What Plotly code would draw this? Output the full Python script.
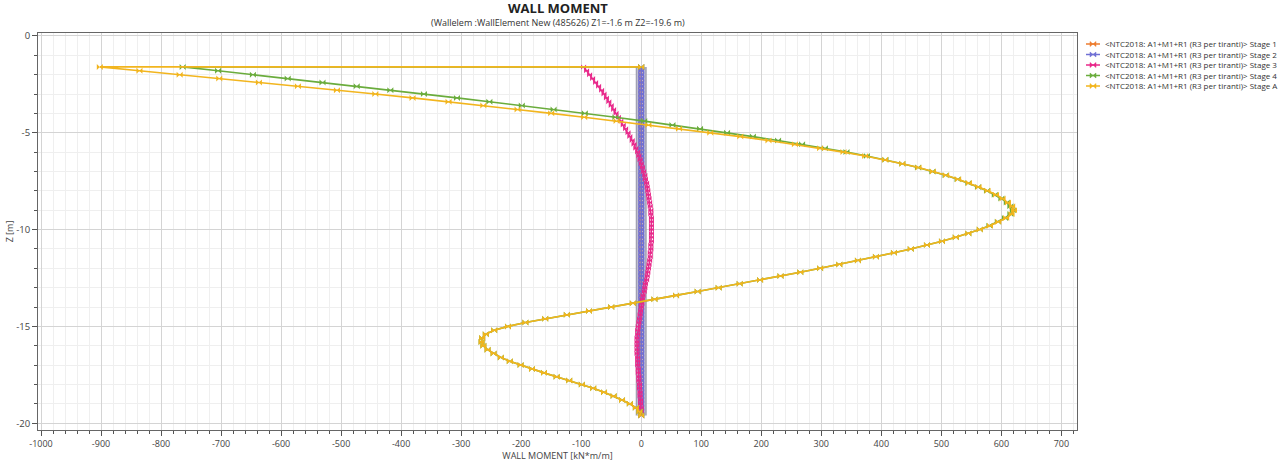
import plotly.graph_objects as go

# Depth grid (Z1=-1.6 m to Z2=-19.6 m, step 0.2 m)
z = [round(-1.6 - 0.2 * i, 1) for i in range(91)]

stage1 = [0] * 91
stage2 = [0] * 91

stage3 = [-96, -91, -86, -81, -76, -71, -66, -62, -58, -54,
          -50, -46, -42, -38, -34, -30, -26, -22, -19, -15,
          -12, -9, -6, -4, -2, 0, 2, 4, 6, 7,
          9, 10, 11, 12, 13, 14, 15, 16, 16, 17,
          17, 17, 17, 17, 17, 17, 16, 16, 15, 15,
          14, 13, 12, 11, 10, 9, 7, 6, 5, 3,
          2, 1, 0, -1, -2, -3, -4, -5, -6, -6,
          -7, -7, -7, -7, -7, -6, -6, -6, -5, -5,
          -4, -4, -3, -3, -2, -2, -1, -1, 0, 0, 0]

stage4 = [-764, -705, -647, -589, -531, -474, -418, -362, -307, -253,
          -199, -146, -94, -43, 5, 52, 98, 143, 186, 228,
          268, 306, 342, 376, 407, 435, 461, 485, 507, 527,
          545, 561, 576, 589, 600, 609, 615, 619, 615, 606,
          594, 580, 564, 545, 524, 501, 476, 449, 421, 391,
          361, 330, 298, 265, 232, 198, 164, 129, 94, 58,
          22, -14, -50, -87, -124, -160, -193, -222, -245, -259,
          -265, -266, -263, -256, -246, -234, -219, -201, -182, -162,
          -141, -120, -99, -80, -62, -46, -32, -19, -9, -3, 0]

stageA = [-902, -836, -769, -703, -637, -572, -507, -443, -381, -321,
          -263, -206, -150, -95, -41, 12, 63, 115, 165, 212,
          256, 298, 337, 373, 406, 435, 462, 486, 508, 528,
          546, 562, 577, 591, 602, 611, 618, 621, 617, 608,
          595, 581, 564, 545, 524, 501, 476, 449, 421, 391,
          361, 330, 298, 265, 232, 198, 164, 129, 94, 58,
          22, -14, -50, -87, -124, -160, -193, -222, -245, -259,
          -265, -266, -263, -256, -246, -234, -219, -201, -182, -162,
          -141, -120, -99, -80, -62, -46, -32, -19, -9, -3, 0]

# Top of wall: curves start from the wall head (0 at Z1)
head_x = 0
head_z = -1.6

x_ticks = [-1000, -900, -800, -700, -600, -500, -400, -300, -200, -100,
           0, 100, 200, 300, 400, 500, 600, 700]
y_ticks = [0, -5, -10, -15, -20]

prefix = "&lt;NTC2018: A1+M1+R1 (R3 per tiranti)&gt; "
stage_names = ["Stage 1", "Stage 2", "Stage 3", "Stage 4", "Stage A"]

c1 = "#ed7d31"
c2 = "#7070d4"
c3 = "#e8288a"
c4 = "#6aac3c"
cA = "#f2b51e"
colors = [c1, c2, c3, c4, cA]

fig = go.Figure()

# grey band behind stage 2
fig.add_trace(go.Scatter(x=stage2, y=z, mode="lines",
                         line=dict(color="rgba(150,150,170,0.9)", width=11),
                         showlegend=False, hoverinfo="skip"))
fig.add_trace(go.Scatter(x=stage2, y=z, mode="lines",
                         line=dict(color="rgba(200,200,218,1)", width=8),
                         showlegend=False, hoverinfo="skip"))

series = [
    (stage1, z, 5),
    (stage2, z, 6),
    (stage3, z, 5),
    ([head_x] + stage4, [head_z] + z, 6),
    ([head_x] + stageA, [head_z] + z, 6),
]
for (xs, ys, msize), name, col in zip(series, stage_names, colors):
    fig.add_trace(go.Scatter(x=xs, y=ys, mode="lines+markers", name=prefix + name,
                             line=dict(color=col, width=1.6),
                             marker=dict(symbol="bowtie", size=msize, color=col),
                             showlegend=False))

font_family = "Open Sans, Noto Sans, sans-serif"
L, R, T, B = 38, 209, 33, 32
W, H = 1286, 462
plot_w = W - L - R
plot_h = H - T - B


def px_x(X):
    return (X - L) / plot_w


def px_y(Y):
    return (H - B - Y) / plot_h


# manual compact legend
shapes = []
annotations = []
leg_rows = [44, 54.5, 65, 75.5, 86]
for Y, name, col in zip(leg_rows, stage_names, colors):
    shapes.append(dict(type="line", xref="paper", yref="paper",
                       x0=px_x(1086), x1=px_x(1100), y0=px_y(Y), y1=px_y(Y),
                       line=dict(color=col, width=1.5)))
    xa, xb = px_x(1090), px_x(1096)
    ya, yb = px_y(Y - 2.5), px_y(Y + 2.5)
    shapes.append(dict(type="path", xref="paper", yref="paper",
                       path=f"M {xa} {ya} L {xb} {yb} L {xb} {ya} L {xa} {yb} Z",
                       fillcolor=col, line=dict(color=col, width=0.5)))
    annotations.append(dict(text=prefix + name, x=px_x(1103), xref="paper",
                            y=px_y(Y), yref="paper", xanchor="left", yanchor="middle",
                            showarrow=False, font=dict(size=8, color="#333")))

annotations += [
    dict(text="<b>WALL MOMENT</b>", x=0.5, xref="paper",
         y=px_y(8), yref="paper",
         xanchor="center", yanchor="middle", showarrow=False,
         font=dict(size=13, color="#222", family=font_family)),
    dict(text="(Wallelem :WallElement New (485626) Z1=-1.6 m Z2=-19.6 m)",
         x=0.5, xref="paper", y=px_y(22), yref="paper",
         xanchor="center", yanchor="middle", showarrow=False,
         font=dict(size=9, color="#333", family=font_family)),
]

fig.update_layout(
    width=W, height=H,
    margin=dict(l=L, r=R, t=T, b=B, autoexpand=False),
    paper_bgcolor="white", plot_bgcolor="white",
    font=dict(family=font_family, size=10, color="#333"),
    showlegend=False,
    shapes=shapes,
    annotations=annotations,
)

fig.update_xaxes(
    range=[-1005, 726], tickvals=x_ticks, ticktext=[str(v) for v in x_ticks],
    showgrid=True, gridcolor="#d4d4d4", gridwidth=1,
    minor=dict(dtick=20, showgrid=True, gridcolor="#efefef", ticks="outside",
               ticklen=3, tickcolor="#555"),
    ticks="outside", ticklen=5, tickcolor="#555",
    showline=True, linecolor="#666", linewidth=1, mirror=True,
    zeroline=False, tickfont=dict(size=9, color="#444"), automargin=False,
    title=dict(text="WALL MOMENT [kN*m/m]", font=dict(size=9, color="#444"), standoff=0),
)
fig.update_yaxes(
    range=[-20.35, 0.15], tickvals=y_ticks, ticktext=[str(v) for v in y_ticks],
    showgrid=True, gridcolor="#d4d4d4", gridwidth=1,
    minor=dict(dtick=1, showgrid=True, gridcolor="#efefef", ticks="outside",
               ticklen=3, tickcolor="#555"),
    ticks="outside", ticklen=5, tickcolor="#555",
    showline=True, linecolor="#666", linewidth=1, mirror=True,
    zeroline=False, tickfont=dict(size=9.5, color="#444"), automargin=False,
    title=dict(text="Z [m]", font=dict(size=9, color="#444"), standoff=0),
)

fig.write_html("out.html")
